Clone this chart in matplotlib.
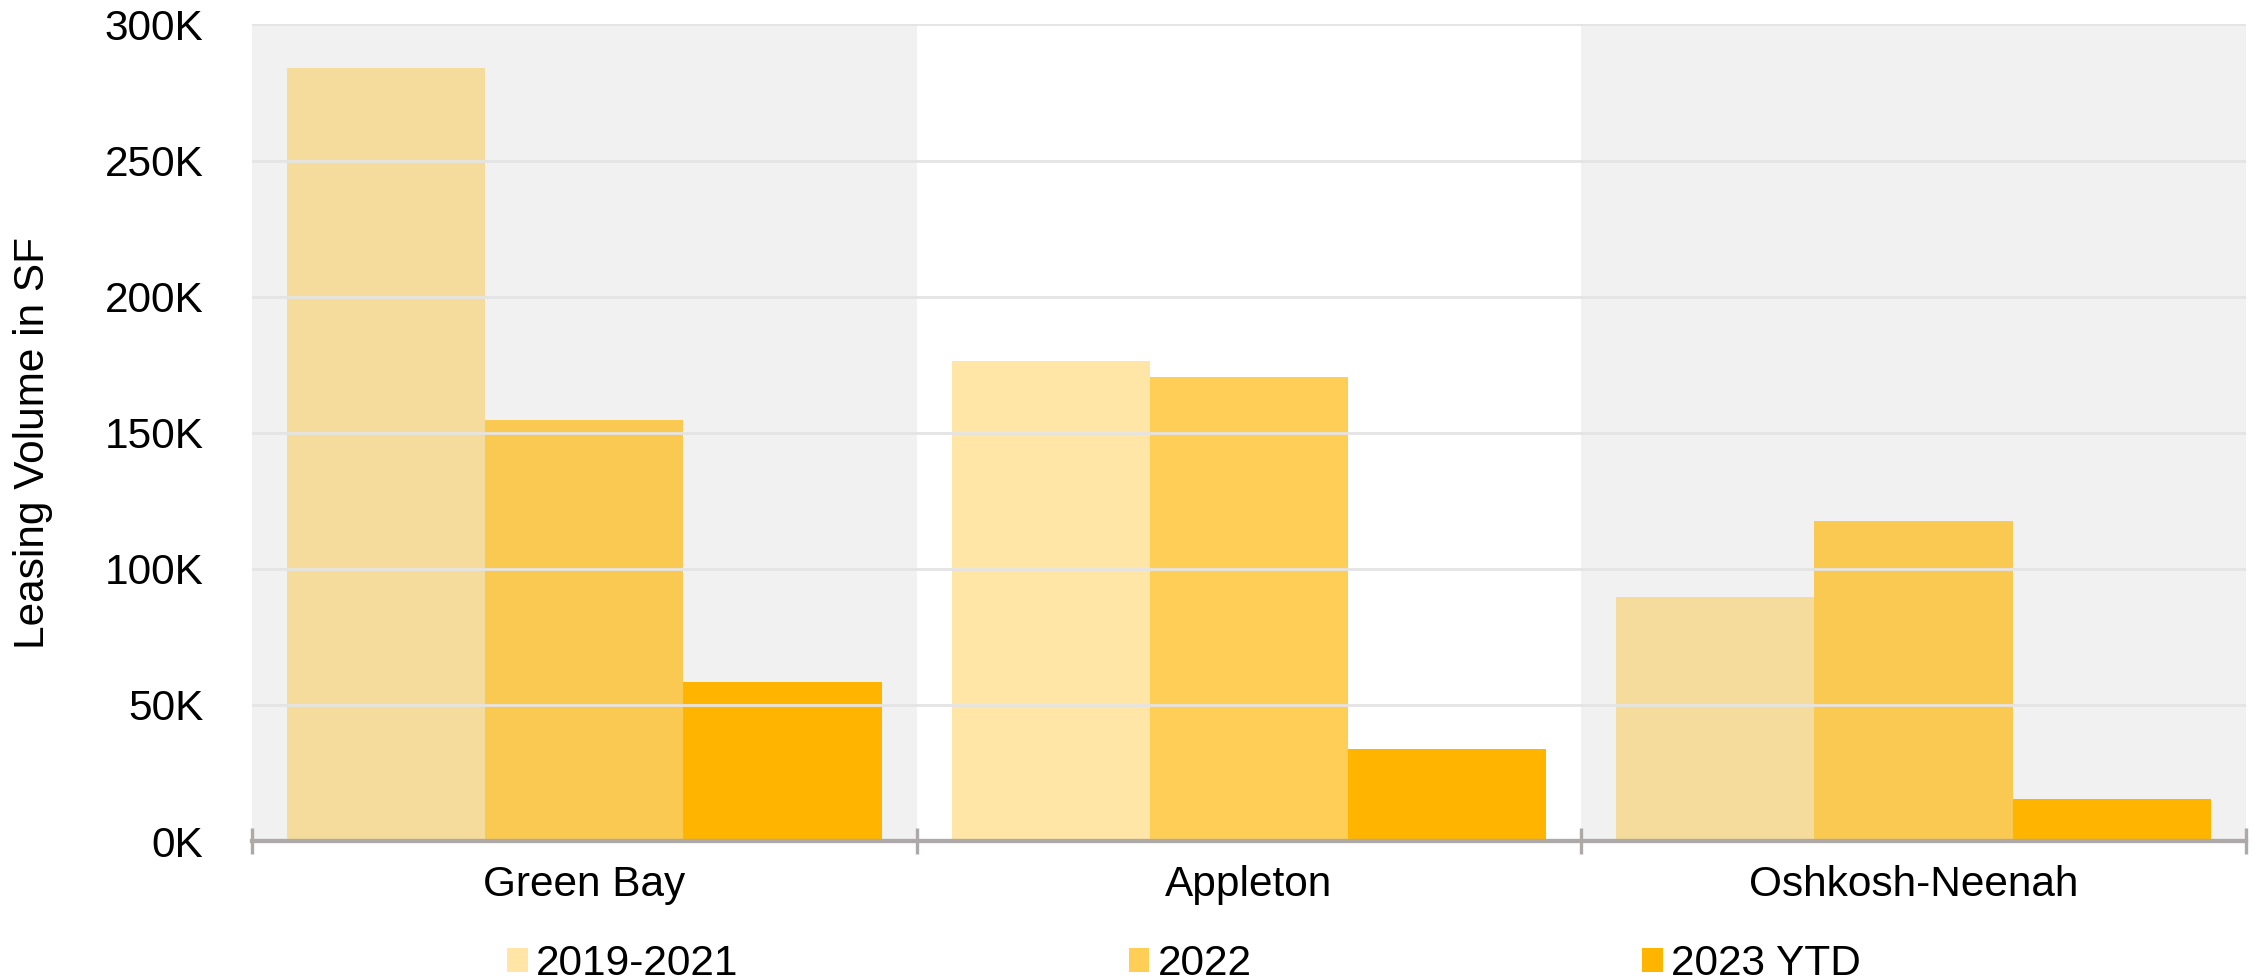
import numpy as np
import matplotlib
matplotlib.use("Agg")
import matplotlib.pyplot as plt
from matplotlib.patches import Patch
from matplotlib.ticker import FuncFormatter, MultipleLocator

plt.rcParams['font.family'] = ['Liberation Sans', 'DejaVu Sans']

# data
markets = ["Green Bay", "Appleton", "Oshkosh-Neenah"]
series = ["2019-2021", "2022", "2023 YTD"]
vol_2019_2021 = [284000, 176500, 89500]
vol_2022 = [154700, 170600, 117600]
vol_2023_ytd = [58300, 33900, 15400]

base = "#FFB500"
alphas = [0.35, 0.66, 1.0]
fs = 30.5

fig = plt.figure(figsize=(22.62, 9.8), dpi=100)
ax = fig.add_axes([0.1114, 0.1418, 0.8815, 0.8332])

x = np.arange(len(markets))
w = 0.2983

# alternating background bands
for i in range(len(markets)):
    if i % 2 == 0:
        ax.axvspan(i - 0.5, i + 0.5, color="#F1F1F1", zorder=0, lw=0)

ax.yaxis.grid(True, color="#E4E4E4", linewidth=2, zorder=1)
ax.set_axisbelow(False)

for k, vals in enumerate([vol_2019_2021, vol_2022, vol_2023_ytd]):
    ax.bar(x + (k - 1) * w, vals, width=w, color=base, alpha=alphas[k],
           linewidth=0, zorder=2)

ax.set_xlim(-0.5, len(markets) - 0.5)
ax.set_ylim(0, 300000)
ax.yaxis.set_major_locator(MultipleLocator(50000))
ax.yaxis.set_major_formatter(FuncFormatter(lambda v, p: f"{int(v / 1000)}K"))

for s in ["top", "right", "left"]:
    ax.spines[s].set_visible(False)
ax.spines["bottom"].set_color("#ADA9A9")
ax.spines["bottom"].set_linewidth(3.1)
ax.spines["bottom"].set_zorder(3)

ax.set_xticks(x)
ax.set_xticklabels(markets)
ax.set_xticks(np.arange(-0.5, len(markets)), minor=True)
ax.tick_params(axis="x", which="major", length=0, pad=17, labelsize=fs)
ax.tick_params(axis="x", which="minor", length=18.7, width=2.4,
               direction="inout", color="#ADA9A9")
ax.tick_params(axis="y", length=0, pad=35, labelsize=fs)

fig.text(0.0144, 0.548, "Leasing Volume in SF", rotation=90,
         ha="center", va="center", fontsize=fs)

handles = [Patch(facecolor=base, alpha=a, linewidth=0) for a in alphas]
fig.legend(handles, series, loc="center", bbox_to_anchor=(0.5235, 0.016),
           ncol=3, frameon=False, fontsize=fs, handlelength=0.48,
           handleheight=0.48, handletextpad=0.2, columnspacing=9.22,
           borderpad=0, borderaxespad=0)

fig.savefig("out.png", dpi=100)
